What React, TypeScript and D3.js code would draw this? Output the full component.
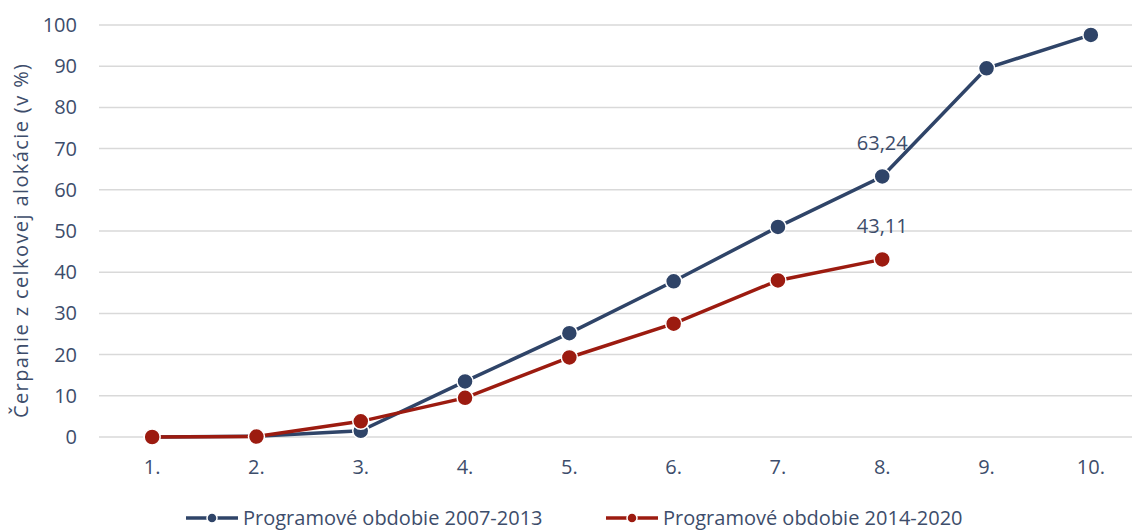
import React from 'react'
import * as d3 from 'd3'

// Data
const categories = ['1.', '2.', '3.', '4.', '5.', '6.', '7.', '8.', '9.', '10.']
const series2007 = [0, 0.2, 1.5, 13.5, 25.2, 37.8, 51, 63.24, 89.5, 97.6]
const series2014 = [0, 0.1, 3.8, 9.5, 19.3, 27.5, 38, 43.11]
const yTicks = [0, 10, 20, 30, 40, 50, 60, 70, 80, 90, 100]
const seriesNames = ['Programové obdobie 2007-2013', 'Programové obdobie 2014-2020']
const labelled = [
    { series: 0, index: 7, text: '63,24' },
    { series: 1, index: 7, text: '43,11' },
]

const NAVY = '#2f4468'
const RED = '#9c1b10'
const TEXT = '#3d4d6b'
const FONT = '"Open Sans", "Noto Sans", sans-serif'

export default function App() {
    const width = 1132
    const height = 530

    // Scales
    const xScale = d3.scaleBand().domain(categories).range([100, 1143])
    const yScale = d3.scaleLinear().domain([0, 100]).range([437, 25])
    const cx = (i: number) => xScale(categories[i])! + xScale.bandwidth() / 2

    const line = d3.line<number>()
        .x((d, i) => cx(i))
        .y(d => yScale(d))

    const all = [
        { values: series2007, color: NAVY },
        { values: series2014, color: RED },
    ]

    const legendX = [186, 606]

    return (
        <svg width={width} height={height} style={{ position: 'absolute', left: 0, top: 0 }}
            fontFamily={FONT}>
            {/* Grid */}
            {yTicks.map(t => (
                <line key={t} x1={99} x2={1132} y1={yScale(t)} y2={yScale(t)}
                    stroke="#d9d9d9" strokeWidth={1.5} />
            ))}
            {/* Y labels */}
            {yTicks.map(t => (
                <text key={t} x={77} y={yScale(t)} dy="0.35em" textAnchor="end"
                    fontSize={20} fill={TEXT}>{t}</text>
            ))}
            <text transform="translate(21,241) rotate(-90)" textAnchor="middle" dy="0.35em"
                fontSize={20} fill={TEXT} textLength={354} lengthAdjust="spacing">Čerpanie z celkovej alokácie (v %)</text>
            {/* X labels */}
            {categories.map((c, i) => (
                <text key={c} x={cx(i)} y={467} dy="0.35em" textAnchor="middle"
                    fontSize={20} fill={TEXT}>{c}</text>
            ))}
            {/* Lines */}
            {all.map((s, k) => (
                <g key={k}>
                    <path d={line(s.values)!} fill="none" stroke={s.color} strokeWidth={3.5} />
                    {s.values.map((v, i) => (
                        <circle key={i} cx={cx(i)} cy={yScale(v)} r={8}
                            fill={s.color} stroke="#fff" strokeWidth={1.5} />
                    ))}
                </g>
            ))}
            {/* Data labels */}
            {labelled.map((l, k) => (
                <text key={k} x={cx(l.index)} y={yScale(all[l.series].values[l.index]) - 33}
                    dy="0.35em" textAnchor="middle" fontSize={20} fill={TEXT}>{l.text}</text>
            ))}
            {/* Legend */}
            {seriesNames.map((name, k) => (
                <g key={name} transform={`translate(${legendX[k]},518)`}>
                    <line x1={0} x2={52} y1={0} y2={0} stroke={all[k].color} strokeWidth={3.5} />
                    <circle cx={26} cy={0} r={5} fill={all[k].color} stroke="#fff" strokeWidth={1.5} />
                    <text x={57} y={0} dy="0.35em" fontSize={20} fill={TEXT}>{name}</text>
                </g>
            ))}
        </svg>
    )
}
